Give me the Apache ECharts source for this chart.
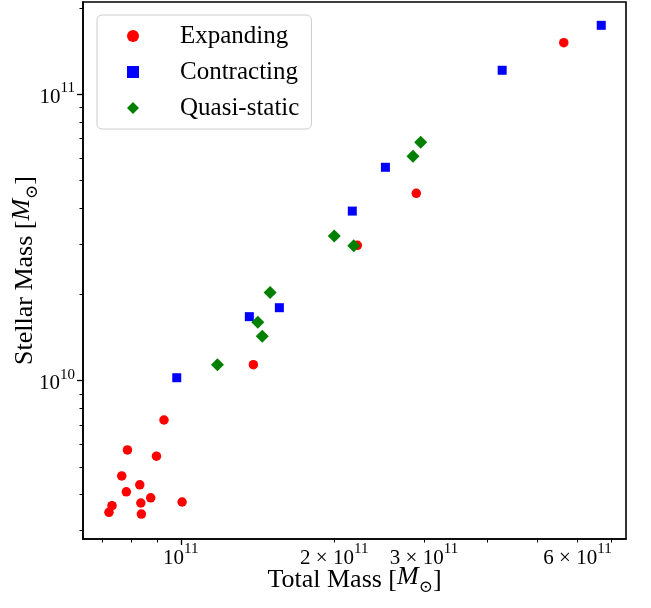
<!DOCTYPE html>
<html>
<head>
<meta charset="utf-8">
<script src="https://cdn.jsdelivr.net/npm/echarts@6/dist/echarts.min.js"></script>
<style>
html,body{margin:0;padding:0;background:#fff;}
#chart{width:651px;height:608px;}
</style>
</head>
<body>
<div id="chart"></div>
<script>
// ---- data ----
var seriesNames = ['Expanding', 'Contracting', 'Quasi-static'];
var expandingX = [9.27e10, 7.86e10, 8.96e10, 7.66e10, 8.31e10, 7.82e10, 8.73e10, 1.006e11, 8.35e10, 7.33e10, 7.23e10, 8.37e10, 1.388e11, 2.22e11, 2.897e11, 5.64e11];
var expandingY = [7.29e9, 5.73e9, 5.45e9, 4.65e9, 4.33e9, 4.09e9, 3.90e9, 3.77e9, 3.74e9, 3.66e9, 3.47e9, 3.42e9, 1.137e10, 2.97e10, 4.51e10, 1.514e11];
var contractingX = [9.82e10, 1.363e11, 1.561e11, 2.17e11, 2.52e11, 4.27e11, 6.68e11];
var contractingY = [1.024e10, 1.673e10, 1.798e10, 3.91e10, 5.56e10, 1.213e11, 1.741e11];
var quasiX = [1.18e11, 1.416e11, 1.445e11, 1.497e11, 2.00e11, 2.184e11, 2.854e11, 2.955e11];
var quasiY = [1.137e10, 1.60e10, 1.429e10, 2.03e10, 3.20e10, 2.96e10, 6.07e10, 6.80e10];

var xRange = [6.43e10, 7.47e11];
var yRange = [2.8e9, 2.1e11];
var xMajorTicks = [1e11];
var xMinorTicks = [7e10, 8e10, 9e10, 2e11, 3e11, 4e11, 5e11, 6e11, 7e11];
var xLabelValues = [1e11, 2e11, 3e11, 6e11];
var xLabelTexts = ['{b|10}{s|11}', '{b|2 × 10}{s|11}', '{b|3 × 10}{s|11}', '{b|6 × 10}{s|11}'];
var yMajorTicks = [1e10, 1e11];
var yMinorTicks = [3e9, 4e9, 5e9, 6e9, 7e9, 8e9, 9e9, 2e10, 3e10, 4e10, 5e10, 6e10, 7e10, 8e10, 9e10, 2e11];
var yLabelValues = [1e10, 1e11];
var yLabelTexts = ['{b|10}{s|10}', '{b|10}{s|11}'];
var xTitle = 'Total Mass [{it|M}{sub|⊙}]';
var yTitle = 'Stellar Mass [{it|M}{sub|⊙}]';

// ---- helpers ----
var FONT = '"Liberation Serif", "DejaVu Serif", serif';
function zip(a, b) { return a.map(function (v, i) { return [v, b[i]]; }); }
function lookup(vals, texts) {
  return function (v) {
    for (var i = 0; i < vals.length; i++) {
      if (Math.abs(v - vals[i]) / vals[i] < 1e-3) return texts[i];
    }
    return '';
  };
}
var tickRich = {
  b: { fontSize: 21, fontFamily: FONT, color: '#000', lineHeight: 27, verticalAlign: 'bottom' },
  s: { fontSize: 15, fontFamily: FONT, color: '#000', lineHeight: 15, verticalAlign: 'top' }
};
var titleRich = {
  it: { fontSize: 26, fontFamily: FONT, fontStyle: 'italic', color: '#000', lineHeight: 32, verticalAlign: 'top' },
  sub: { fontSize: 17, fontFamily: '"DejaVu Serif", serif', color: '#000', lineHeight: 22, verticalAlign: 'bottom' }
};
var titleStyle = { fontSize: 26, fontFamily: FONT, color: '#000', lineHeight: 32, rich: titleRich };

var chart = echarts.init(document.getElementById('chart'), null, { renderer: 'canvas' });
var option = {
  animation: false,
  backgroundColor: '#fff',
  grid: { left: 83, right: 25, top: 2, bottom: 69, containLabel: false, outerBoundsMode: 'none',
    show: true, borderColor: '#000', borderWidth: 1.6, backgroundColor: 'transparent' },
  legend: {
    orient: 'vertical',
    left: 97, top: 15,
    padding: [6, 12, 6, 30],
    itemGap: 6,
    itemWidth: 12, itemHeight: 12,
    backgroundColor: 'rgba(255,255,255,0.8)',
    borderColor: '#cccccc', borderWidth: 1, borderRadius: 5,
    data: seriesNames,
    textStyle: { fontSize: 25, fontFamily: FONT, color: '#000', lineHeight: 30, padding: [0, 0, 0, 36] }
  },
  xAxis: [{
    type: 'log', min: xRange[0], max: xRange[1], position: 'bottom',
    name: xTitle, nameLocation: 'middle', nameGap: 25, nameMoveOverlap: false, nameTextStyle: titleStyle,
    axisLine: { show: true, lineStyle: { color: '#000', width: 1.6 } },
    axisTick: { show: true, inside: false, length: 6, lineStyle: { color: '#000', width: 1.3 }, customValues: xMajorTicks },
    axisLabel: { show: true, margin: 3, customValues: xLabelValues, formatter: lookup(xLabelValues, xLabelTexts), rich: tickRich },
    splitLine: { show: false }, minorTick: { show: false }
  }, {
    type: 'log', min: xRange[0], max: xRange[1], position: 'bottom',
    axisLine: { show: false },
    axisTick: { show: true, inside: false, length: 3.5, lineStyle: { color: '#000', width: 1 }, customValues: xMinorTicks },
    axisLabel: { show: false },
    splitLine: { show: false }
  }],
  yAxis: [{
    type: 'log', min: yRange[0], max: yRange[1], position: 'left',
    name: yTitle, nameLocation: 'middle', nameGap: 42, nameMoveOverlap: false, nameRotate: 90, nameTextStyle: titleStyle,
    axisLine: { show: true, lineStyle: { color: '#000', width: 1.6 } },
    axisTick: { show: true, inside: false, length: 6, lineStyle: { color: '#000', width: 1.3 }, customValues: yMajorTicks },
    axisLabel: { show: true, margin: 8, customValues: yLabelValues, formatter: lookup(yLabelValues, yLabelTexts), rich: tickRich },
    splitLine: { show: false }
  }, {
    type: 'log', min: yRange[0], max: yRange[1], position: 'left',
    axisLine: { show: false },
    axisTick: { show: true, inside: false, length: 3.5, lineStyle: { color: '#000', width: 1 }, customValues: yMinorTicks },
    axisLabel: { show: false },
    splitLine: { show: false }
  }],
  series: [{
    name: seriesNames[0], type: 'scatter', symbol: 'circle', symbolSize: 9.5,
    itemStyle: { color: '#ff0000', opacity: 1 }, data: zip(expandingX, expandingY)
  }, {
    name: seriesNames[1], type: 'scatter', symbol: 'rect', symbolSize: 9,
    itemStyle: { color: '#0000ff', opacity: 1 }, data: zip(contractingX, contractingY)
  }, {
    name: seriesNames[2], type: 'scatter', symbol: 'diamond', symbolSize: 13,
    itemStyle: { color: '#008000', opacity: 1 }, data: zip(quasiX, quasiY)
  }]
};
chart.setOption(option);
</script>
</body>
</html>
